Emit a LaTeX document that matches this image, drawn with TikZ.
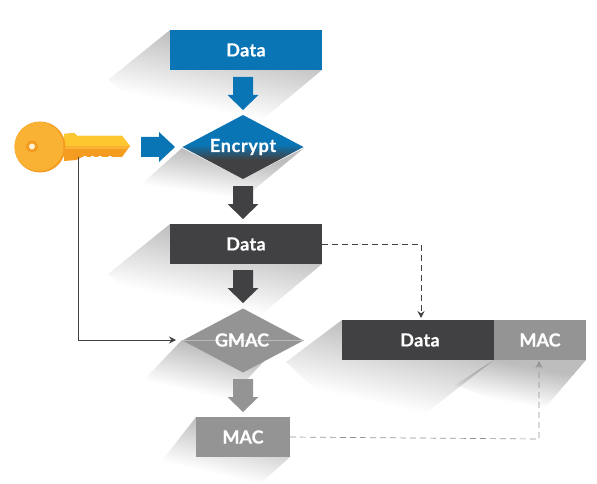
\documentclass[tikz,border=0pt]{standalone}
\usepackage{fontspec}
\setmainfont[BoldFeatures={FakeBold=0.6}]{Lato}
\usetikzlibrary{shapes.geometric,arrows.meta,fadings}
\definecolor{cblue}{HTML}{0A75B5}
\definecolor{cdark}{HTML}{414042}
\definecolor{cgray}{HTML}{949494}
\definecolor{kgold}{HTML}{F9B233}
\definecolor{klight}{HTML}{FDC82F}
\definecolor{kdeep}{HTML}{F39C1F}
\pgfdeclareverticalshading{encshade}{100bp}{color(0bp)=(cdark); color(40bp)=(cdark); color(52bp)=(cblue); color(100bp)=(cblue)}
\pgfdeclareverticalshading{shfadeshade}{100bp}{color(0bp)=(black); color(33bp)=(black); color(68bp)=(white!26!black); color(100bp)=(white!26!black)}
\pgfdeclarefading{shfade}{\pgfuseshading{shfadeshade}}
\tikzset{
  labelfont/.style={font=\bfseries\fontsize{18}{20}\selectfont},
  box/.style={fill=#1, text=white, inner sep=0pt, outer sep=0pt, labelfont},
  dia/.style={diamond, aspect=1.9, inner sep=0pt, outer sep=0pt, minimum width=121pt, minimum height=64pt, text=white, labelfont},
  shadowpoly/.style={fill=black, path fading=shfade, fading angle=-25},
  thin link/.style={draw=#1, line width=0.7pt, -{Stealth[length=7pt,width=7pt,inset=2.5pt]}},
  dash link/.style={thin link=#1, dash pattern=on 6pt off 4pt}
}
\newcommand{\blockdown}[3]{% colour, top y, tip y
  \fill[#1] (233,#2) -- (253,#2) -- (253,#3-15) -- (258.5,#3-15) -- (243,#3) -- (227.5,#3-15) -- (233,#3-15) -- cycle;}
\begin{document}
\begin{tikzpicture}[x=1pt,y=-1pt]
\useasboundingbox (0,0) rectangle (597,484);
% shadows
\fill[shadowpoly] (170,30) -- (170,70) -- (322,70) -- (262,120) -- (160,122) -- (108,80) -- cycle;
\fill[shadowpoly] (182,148) -- (243,179) -- (304,148) -- (244,198) -- (180,202) -- (128,196) -- cycle;
\fill[shadowpoly] (170,224) -- (170,264) -- (322,264) -- (262,314) -- (160,316) -- (108,274) -- cycle;
\fill[shadowpoly] (182,340) -- (243,372) -- (268,357) -- (226,402) -- (180,400) -- (140,384) -- cycle;
\fill[shadowpoly] (196,417) -- (196,457) -- (290,457) -- (260,484) -- (190,484) -- (157,467) -- cycle;
\fill[shadowpoly] (342,320) -- (342,360) -- (494,360) -- (420,418) -- (340,412) -- (286,362) -- cycle;
\fill[shadowpoly] (494,360) -- (586,360) -- (543,410) -- (500,402) -- (455,385) -- cycle;
% boxes
\node[box=cblue, minimum width=152pt, minimum height=40pt] (data1) at (246,50) {\addfontfeatures{LetterSpace=2}Data\hspace{6pt}};
\node[dia, shade, shading=encshade] (enc) at (243,147) {\addfontfeatures{LetterSpace=4}Encrypt};
\node[box=cdark, minimum width=152pt, minimum height=40pt] (data2) at (246,244) {\addfontfeatures{LetterSpace=2}Data\hspace{6pt}};
\node[dia, fill=cgray] (gmac) at (243,340.5) {};
\draw[white!35!cgray, line width=0.4pt] (gmac.west) -- (gmac.east);
\node[text=white, inner sep=0pt, labelfont] (gmactext) at (242,340) {GMAC};
\node[box=cgray, minimum width=94pt, minimum height=40pt] (mac1) at (243,437) {MAC};
\node[box=cdark, minimum width=152pt, minimum height=40pt] (data3) at (418,340) {\hspace{4pt}\addfontfeatures{LetterSpace=2}Data};
\node[box=cgray, minimum width=92pt, minimum height=40pt] (mac2) at (540,340) {MAC\hspace{6pt}};
% block arrows
\blockdown{cblue}{77}{110}
\blockdown{cdark}{186}{219}
\blockdown{cdark}{270}{303}
\blockdown{cgray}{379}{412}
\fill[cblue] (141,137) -- (159,137) -- (159,132) -- (175,147) -- (159,162) -- (159,157) -- (141,157) -- cycle;
% key
\fill[kdeep] (64,134) -- (74,133) -- (77,136) -- (122,136) -- (130,146) -- (122,157) -- (82,157) -- (76,160) -- (64,161) -- cycle;
\fill[klight] (64,134) -- (74,133) -- (77,136) -- (122,136) -- (130,146) -- (64,146) -- cycle;
\fill[kgold] (64,146) -- (130,146) -- (126,149) -- (64,149) -- cycle;
\foreach \nx in {85,92.5,100,110}{\fill[white] (\nx,158) circle[radius=2.2];}
\fill[kdeep] (40,147) circle[radius=25.5];
\fill[kgold] (39,146.5) circle[radius=24.5];
\fill[kdeep] (32,146.5) circle[radius=6];
\fill[white!80!klight] (32,146.5) circle[radius=3];
\node[inner sep=0pt, outer sep=0pt, minimum size=0pt] (key) at (78,157) {};
% connectors
\coordinate (bend1) at (78,340);
\coordinate (gin) at (176,340);
\draw[thin link=cdark] (key.south) -- (bend1) -- (gin);
\coordinate (bend2) at (421,244);
\coordinate (dtop) at (421,318);
\draw[dash link=cdark] (data2.east) -- (bend2) -- (dtop);
\coordinate (bend3) at (539,439);
\coordinate (mbot) at (539,361);
\draw[dash link=cgray] (mac1.east) -- (bend3) -- (mbot);
\end{tikzpicture}
\end{document}
